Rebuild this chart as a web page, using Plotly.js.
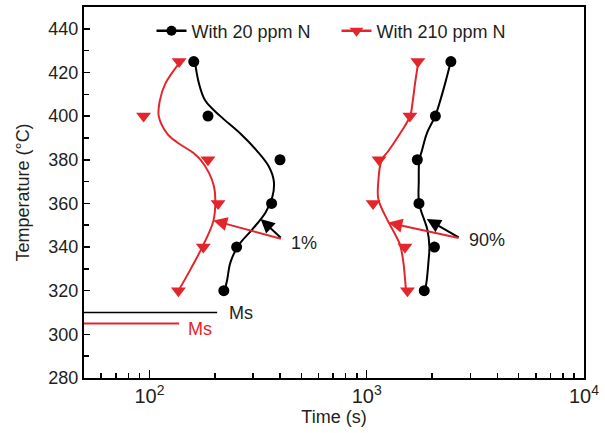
<!DOCTYPE html>
<html>
<head>
<meta charset="utf-8">
<script src="https://cdn.plot.ly/plotly-3.0.1.min.js"></script>
<style>html,body{margin:0;padding:0;background:#fff;}#chart{width:605px;height:433px;}</style>
</head>
<body>
<div id="chart"></div>
<script>
// Measured points (temperature in °C, time in s)
const temps = [425, 400, 380, 360, 340, 320];
const n20_start = [160, 186, 399, 365, 252, 220];      // 1% transformation, 20 ppm N
const n210_start = [137, 94, 186, 207, 177, 136];      // 1% transformation, 210 ppm N
const n20_finish = [2440, 2070, 1710, 1740, 2050, 1840]; // 90% transformation, 20 ppm N
const n210_finish = [1720, 1580, 1140, 1070, 1500, 1540]; // 90% transformation, 210 ppm N

// Fitted curves
const fit20sT = [425, 415, 407, 400, 392, 384, 377, 370, 363, 356, 348, 341, 333, 325, 320];
const fit20sX = [162, 169, 181, 212, 262, 313, 354, 374, 368, 343, 297, 258, 236, 228, 222];
const fit210sT = [425, 415, 407, 400, 392, 388, 383, 380, 374, 368, 362, 352, 340, 330, 320];
const fit210sX = [139, 118.5, 111.6, 110.4, 120.7, 134, 160, 172, 188, 198, 201, 197, 175, 155, 136];
const fit20fT = [425, 415, 407, 400, 392, 384, 380, 370, 360, 348, 340, 333, 325, 320];
const fit20fX = [2438, 2296, 2178, 2066, 1890, 1793, 1747, 1736, 1742, 1901, 1943, 1923, 1890, 1857];
const fit210fT = [425, 415, 407, 400, 392, 384, 380, 370, 362, 353, 346, 341, 333, 325, 320];
const fit210fX = [1729, 1669, 1629, 1583, 1424, 1258, 1172, 1131, 1131, 1236, 1349, 1424, 1475, 1502, 1517];

// Ms lines
const msBlackX = [50, 205], msBlackT = 310;
const msRedX = [50, 137], msRedT = 305;

// Legend labels
const seriesNames = ['With 20 ppm N', 'With 210 ppm N'];

// Arrow annotations (tail and heads)
const arrow1Tail = [409, 343.6];
const arrow1Heads = [[325, 352.9], [196.6, 352.2]];
const arrow90Tail = [2692, 344];
const arrow90Heads = [[1890, 352.8], [1258, 351.2]];

const BLACK = '#000000';
const RED = '#e3262b';
const TXT = '#231f20';
const FONT = 'Liberation Sans, Arial, Helvetica, sans-serif';

const curve = (x, y, c) => ({x: x, y: y, mode: 'lines', line: {color: c, width: 2, shape: 'spline', smoothing: 1}, showlegend: false, hoverinfo: 'skip'});
const pts = (x, y, c, sym, sz) => ({x: x, y: y, mode: 'markers', marker: {color: c, symbol: sym, size: sz}, showlegend: false});

const traces = [
  curve(fit20sX, fit20sT, BLACK),
  curve(fit20fX, fit20fT, BLACK),
  curve(fit210sX, fit210sT, RED),
  curve(fit210fX, fit210fT, RED),
  pts(n20_start, temps, BLACK, 'circle', 11),
  pts(n20_finish, temps, BLACK, 'circle', 11),
  pts(n210_start, temps, RED, 'triangle-down', 13),
  pts(n210_finish, temps, RED, 'triangle-down', 13),
  {x: msBlackX, y: [msBlackT, msBlackT], mode: 'lines', line: {color: BLACK, width: 1.5}, showlegend: false},
  {x: msRedX, y: [msRedT, msRedT], mode: 'lines', line: {color: RED, width: 2}, showlegend: false},
  {x: [null], y: [null], mode: 'lines+markers', name: seriesNames[0], legend: 'legend', line: {color: BLACK, width: 2.5}, marker: {color: BLACK, symbol: 'circle', size: 10}},
  {x: [null], y: [null], mode: 'lines+markers', name: seriesNames[1], legend: 'legend2', line: {color: RED, width: 2.5}, marker: {color: RED, symbol: 'triangle-down', size: 12}}
];

const L = Math.log10;
const arrowAnn = (tail, head, c) => ({
  x: L(head[0]), y: head[1], xref: 'x', yref: 'y',
  ax: L(tail[0]), ay: tail[1], axref: 'x', ayref: 'y',
  showarrow: true, arrowhead: 2, arrowsize: 1.4, arrowwidth: 2, arrowcolor: c, text: ''
});

const annotations = [
  arrowAnn(arrow1Tail, arrow1Heads[0], BLACK),
  arrowAnn(arrow1Tail, arrow1Heads[1], RED),
  arrowAnn(arrow90Tail, arrow90Heads[0], BLACK),
  arrowAnn(arrow90Tail, arrow90Heads[1], RED),
  {x: 2.642, y: 341.7, xref: 'x', yref: 'y', text: '1%', showarrow: false, xanchor: 'left', yanchor: 'middle', font: {family: FONT, size: 18, color: TXT}},
  {x: 3.4636, y: 343.3, xref: 'x', yref: 'y', text: '90%', showarrow: false, xanchor: 'left', yanchor: 'middle', font: {family: FONT, size: 18, color: TXT}},
  {x: 2.358, y: 309.8, xref: 'x', yref: 'y', text: 'Ms', showarrow: false, xanchor: 'left', yanchor: 'middle', font: {family: FONT, size: 18, color: TXT}},
  {x: 2.17, y: 302.5, xref: 'x', yref: 'y', text: 'Ms', showarrow: false, xanchor: 'left', yanchor: 'middle', font: {family: FONT, size: 18, color: RED}}
];

const legendCommon = {orientation: 'h', yanchor: 'middle', xanchor: 'left', y: 0.935, font: {family: FONT, size: 18, color: TXT}, bgcolor: 'rgba(0,0,0,0)', borderwidth: 0};

const layout = {
  width: 605, height: 433,
  margin: {l: 84, r: 21, t: 7, b: 55},
  paper_bgcolor: '#ffffff', plot_bgcolor: '#ffffff',
  font: {family: FONT, size: 18, color: TXT},
  showlegend: true,
  legend: Object.assign({}, legendCommon, {x: 0.135}),
  legend2: Object.assign({}, legendCommon, {x: 0.505}),
  xaxis: {
    type: 'log', range: [L(50), 4], dtick: 1, exponentformat: 'power',
    showgrid: false, zeroline: false,
    showline: true, linecolor: BLACK, linewidth: 2, mirror: true,
    ticks: 'inside', ticklen: 8, tickwidth: 1.5, tickcolor: BLACK,
    minor: {ticks: 'inside', ticklen: 5, tickwidth: 1.5, tickcolor: BLACK, dtick: 'D1', showgrid: false},
    tickfont: {family: FONT, size: 16, color: TXT},
    title: {text: 'Time (s)', font: {family: FONT, size: 18, color: TXT}, standoff: 0}
  },
  yaxis: {
    range: [280, 450], dtick: 20, tick0: 280,
    showgrid: false, zeroline: false,
    showline: true, linecolor: BLACK, linewidth: 2, mirror: true,
    ticks: 'inside', ticklen: 6, tickwidth: 1.5, tickcolor: BLACK,
    minor: {ticks: 'inside', ticklen: 5, tickwidth: 1.5, tickcolor: BLACK, dtick: 10, showgrid: false},
    tickfont: {family: FONT, size: 18, color: TXT},
    title: {text: 'Temperature (°C)', font: {family: FONT, size: 18, color: TXT}, standoff: 14}
  },
  annotations: annotations
};

Plotly.newPlot('chart', traces, layout, {displayModeBar: false, staticPlot: true});
</script>
</body>
</html>
